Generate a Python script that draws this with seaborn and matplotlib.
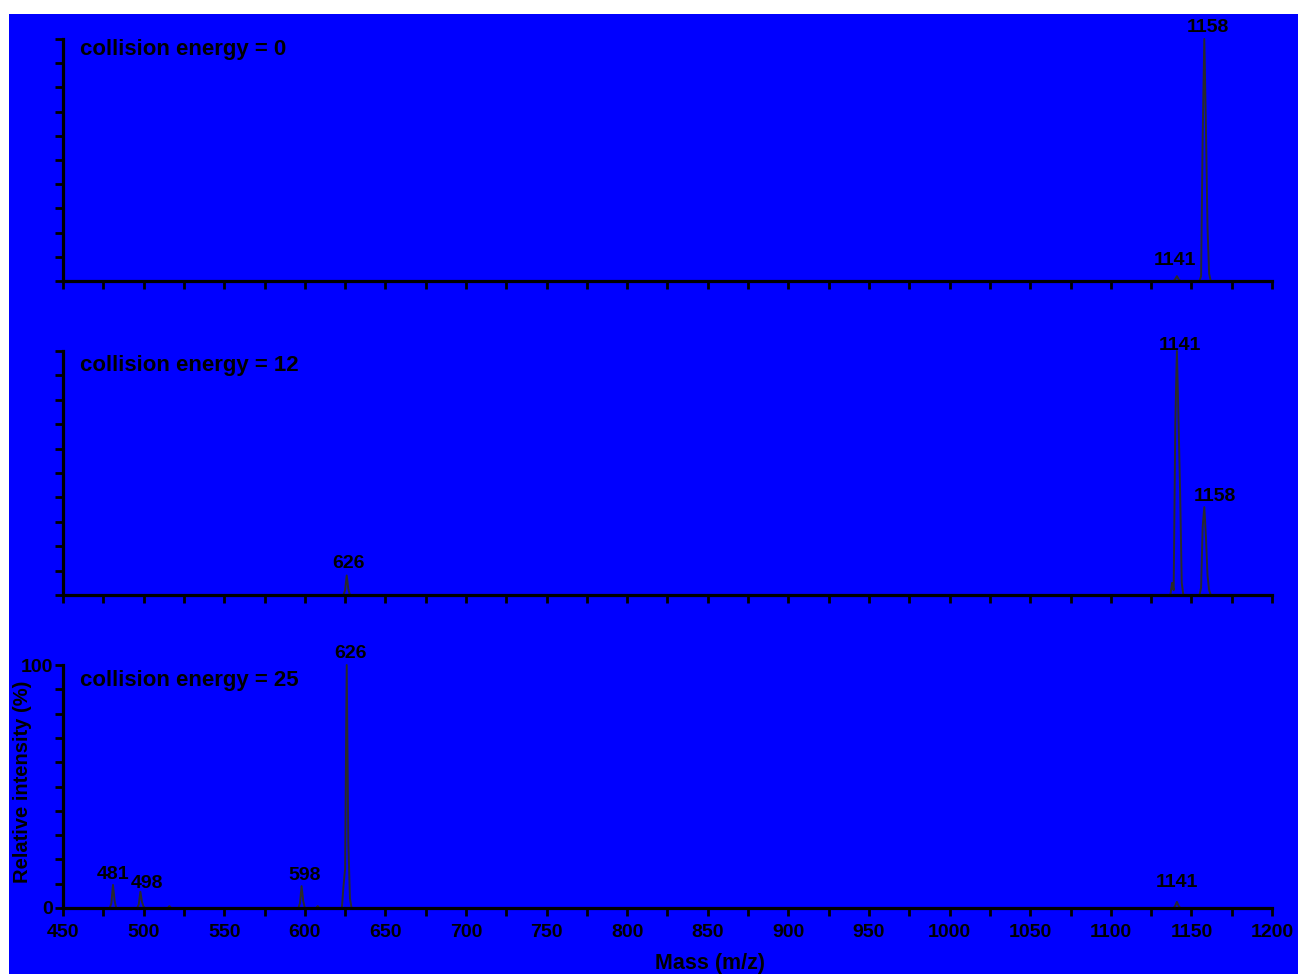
import matplotlib
matplotlib.use("Agg")
import matplotlib.pyplot as plt
from matplotlib.patches import Rectangle
from matplotlib.ticker import MultipleLocator, FuncFormatter
import pandas as pd
import seaborn as sns

# ---------------- data ----------------
energies = [0, 12, 25]

ce0_mz = [450, 1139, 1140, 1141, 1142, 1143, 1155, 1156, 1157, 1158, 1159, 1160, 1161, 1162, 1200]
ce0_int = [0, 0, 0.8, 2, 0.8, 0, 0, 2, 60, 100, 64, 22, 3, 0, 0]

ce12_mz = [450, 624, 625, 626, 627, 628, 1137, 1138, 1139, 1140, 1141, 1142, 1143, 1144, 1145,
           1155, 1156, 1157, 1158, 1159, 1160, 1161, 1162, 1200]
ce12_int = [0, 0, 2, 8, 2.5, 0, 0, 5, 2, 70, 100, 72, 42, 5, 0,
            0, 3, 28, 36, 24, 8, 2, 0, 0]

ce25_mz = [450, 479, 480, 481, 482, 483, 496, 497, 498, 499, 500, 501, 515, 516, 517,
           596, 597, 598, 599, 600, 607, 608, 609, 623, 624, 625, 626, 627, 628, 629,
           1139, 1140, 1141, 1142, 1143, 1200]
ce25_int = [0, 0, 2, 9.5, 3, 0, 0, 1.5, 6.7, 2.5, 0.5, 0, 0, 0.8, 0,
            0, 2, 9, 3, 0, 0, 0.8, 0, 0, 9, 16, 100, 27, 4, 0,
            0, 1, 2.5, 1, 0, 0]

ce0_labels = [("1141", 1141, 2), ("1158", 1158, 100)]
ce12_labels = [("626", 626, 8), ("1141", 1141, 100), ("1158", 1158, 36)]
ce25_labels = [("481", 481, 9.5), ("498", 498, 6.7), ("598", 598, 9),
               ("626", 626, 100), ("1141", 1141, 2.5)]

x_ticklabels = [str(v) for v in range(450, 1201, 50)]

# ---------------- layout / style ----------------
W, H = 1298, 974
sns.set_style("ticks")
plt.rcParams["font.family"] = ["Liberation Sans", "DejaVu Sans"]

fig = plt.figure(figsize=(W / 100, H / 100), dpi=100, facecolor="white")
fig.patches.append(Rectangle((9 / W, 0), 1 - 9 / W, 1 - 14 / H, transform=fig.transFigure,
                             facecolor="#0000ff", edgecolor="none", zorder=-10))

left, right = 63, 1272
panel_px = [(39, 281), (351, 595), (665, 908)]
text_y = [0.955, 0.94, 0.938]
# label offsets in pixels (dx, visible gap above apex)
label_offsets = [
    {"1141": (-2, 11), "1158": (4, 7)},
    {"626": (2, 7), "1141": (3, 1), "1158": (11, 6)},
    {"481": (0, 6), "498": (7, 4), "598": (3, 6), "626": (4, 7), "1141": (0, 15)},
]

series = [(ce0_mz, ce0_int, ce0_labels), (ce12_mz, ce12_int, ce12_labels), (ce25_mz, ce25_int, ce25_labels)]
px2pt = 0.72
tick_fs = 14
axes = []
for i, ((top, bot), (mz, inten, labels)) in enumerate(zip(panel_px, series)):
    ax = fig.add_axes([left / W, 1 - bot / H, (right - left) / W, (bot - top) / H])
    ax.set_facecolor("none")
    df = pd.DataFrame({"mz": mz, "intensity": inten})
    sns.lineplot(data=df, x="mz", y="intensity", ax=ax, color="#2a2a2a", lw=1.4,
                 estimator=None, sort=False, clip_on=False, zorder=3)
    ax.set_xlim(450, 1200)
    ax.set_ylim(0, 100)
    for s in ["top", "right"]:
        ax.spines[s].set_visible(False)
    for s in ["left", "bottom"]:
        ax.spines[s].set_linewidth(2.3)
        ax.spines[s].set_color("black")
        ax.spines[s].set_zorder(4)
    ax.xaxis.set_major_locator(MultipleLocator(25))
    ax.yaxis.set_major_locator(MultipleLocator(10))
    ax.tick_params(axis="both", direction="out", length=5.8, width=2.0, color="black",
                   labelsize=tick_fs, labelcolor="black")
    ax.tick_params(axis="x", pad=5.5)
    ax.tick_params(axis="y", pad=1.5)
    ax.set_xlabel("")
    ax.set_ylabel("")
    if i < 2:
        ax.xaxis.set_major_formatter(FuncFormatter(lambda v, p: ""))
        ax.yaxis.set_major_formatter(FuncFormatter(lambda v, p: ""))
    else:
        ax.xaxis.set_major_formatter(FuncFormatter(
            lambda v, p: str(int(round(v))) if str(int(round(v))) in x_ticklabels else ""))
        ax.yaxis.set_major_formatter(FuncFormatter(
            lambda v, p: str(int(round(v))) if round(v) in (0, 100) else ""))
    ax.text(0.014, text_y[i], f"collision energy = {energies[i]}", transform=ax.transAxes,
            fontsize=16, fontweight="bold", ha="left", va="center", color="black")
    for txt, x, y in labels:
        dx, dy = label_offsets[i][txt]
        ax.annotate(txt, xy=(x, y), xytext=(dx * px2pt, dy * px2pt), textcoords="offset points",
                    ha="center", va="baseline", fontsize=tick_fs, fontweight="bold",
                    color="black", annotation_clip=False)
    axes.append(ax)

ax3 = axes[2]
for t in ax3.get_xticklabels() + ax3.get_yticklabels():
    t.set_fontweight("bold")
ax3.set_xlabel("Mass (m/z)", fontsize=15.5, fontweight="bold", color="black", va="center")
ax3.xaxis.set_label_coords((710 - left) / (right - left), -(964 - 908) / (908 - 665))
ax3.set_ylabel("Relative intensity (%)", fontsize=14.5, fontweight="bold", color="black",
               va="center", ha="center")
ax3.yaxis.set_label_coords((22.5 - left) / (right - left), (908 - 782) / (908 - 665))

fig.savefig("out.png", dpi=100, facecolor="white")
